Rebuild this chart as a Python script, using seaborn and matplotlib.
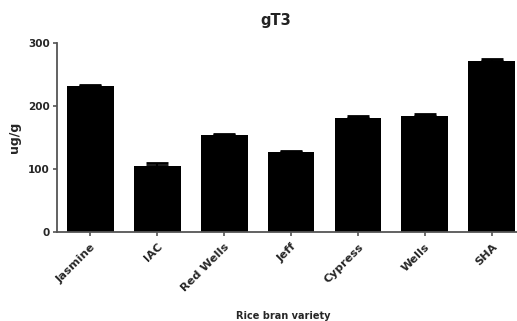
import matplotlib
matplotlib.use("Agg")
import matplotlib.pyplot as plt
import seaborn as sns
import pandas as pd

varieties = ["Jasmine", "IAC", "Red Wells", "Jeff", "Cypress", "Wells", "SHA"]
values = [232, 105, 154, 127, 181, 184, 271]
errors = [2, 5, 2, 2, 3, 3, 4]

df = pd.DataFrame({"variety": varieties, "value": values})

sns.set_style("ticks")
plt.rcParams['font.family'] = ['DejaVu Sans']

fig = plt.figure(figsize=(5.17, 3.21), dpi=100)
ax = fig.add_axes([0.110, 0.277, 0.906, 0.589])

sns.barplot(data=df, x="variety", y="value", color="black", width=0.7,
            errorbar=None, ax=ax, saturation=1, linewidth=0)
ax.errorbar(range(len(varieties)), values, yerr=[[0]*len(errors), errors],
            fmt="none", ecolor="black", elinewidth=1.5, capsize=8, capthick=2)

ax.set_ylim(0, 300)
ax.set_xlim(-0.5, 6.5)
ax.set_yticks([0, 100, 200, 300])
fig.text(0.533, 0.935, "gT3", fontsize=10.5, fontweight="bold", ha="center", va="center",
         color="#222222")
ax.set_ylabel("ug/g", fontsize=9, fontweight="bold")
ax.yaxis.set_label_coords(-0.077, 0.5)
ax.set_xlabel("Rice bran variety", fontsize=7, fontweight="bold")
ax.xaxis.set_label_coords(0.483, -0.418)
ax.set_xticks(range(len(varieties)))
ax.set_xticklabels(varieties, rotation=45, ha="right", rotation_mode="anchor",
                   fontsize=8.2, fontweight="bold")
for lab in ax.get_yticklabels():
    lab.set_fontsize(7.5)
    lab.set_fontweight("bold")

for s in ["top", "right"]:
    ax.spines[s].set_visible(False)
for s in ["left", "bottom"]:
    ax.spines[s].set_color("#555555")
    ax.spines[s].set_linewidth(1.3)
ax.tick_params(axis="both", length=3, width=1.2, color="#555555", pad=2)
ax.tick_params(axis="x", pad=4)

fig.savefig("out.png", dpi=100)
